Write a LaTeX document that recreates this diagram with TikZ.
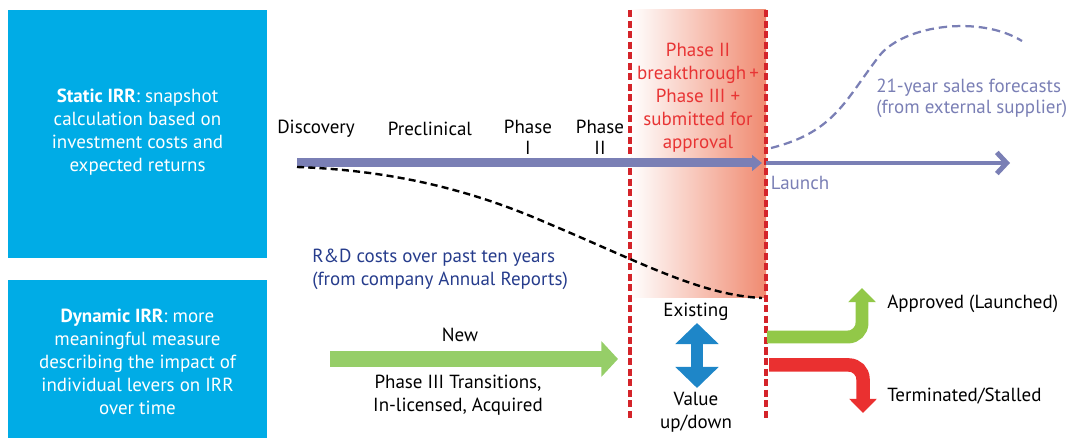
\documentclass[tikz,border=0pt]{standalone}
\usepackage{fontspec}
\setmainfont{PT Sans}
\usetikzlibrary{arrows.meta,positioning}

\definecolor{irrblue}{RGB}{0,172,230}
\definecolor{lineblue}{RGB}{122,127,181}
\definecolor{phasered}{RGB}{232,52,52}
\definecolor{dashred}{RGB}{212,36,42}
\definecolor{shadered}{RGB}{240,138,112}
\definecolor{costnavy}{RGB}{38,60,140}
\definecolor{newgreen}{RGB}{150,206,104}
\definecolor{okgreen}{RGB}{146,200,72}
\definecolor{stopred}{RGB}{234,48,48}
\definecolor{valueblue}{RGB}{30,134,200}

\tikzset{
  txt/.style={inner sep=0pt, align=center, font=\fontsize{13.5}{16.4}\selectfont},
  boxtxt/.style={txt, text=white},
  redline/.style={dashred, line width=2.2pt, dash pattern=on 5pt off 2.5pt},
  costline/.style={black, line width=1.7pt, dash pattern=on 5pt off 3pt},
  salesline/.style={lineblue, line width=1.6pt, dash pattern=on 6pt off 3.5pt},
  fatarrow/.style={line width=#1, -{Triangle[width=2.3*#1, length=1.1*#1]}}
}

\begin{document}
\begin{tikzpicture}[x=0.025cm,y=-0.025cm]
\useasboundingbox (0,0) rectangle (1067,438);

% Cajas azules de la izquierda.
\fill[irrblue] (8,10) rectangle (267,258);
\node[boxtxt] (static) at (137.5,132) {\textbf{Static IRR}: snapshot\\calculation based on\\investment costs and\\expected returns};
\fill[irrblue] (8,280) rectangle (267,438);
\node[boxtxt] (dynamic) at (137.5,362) {\textbf{Dynamic IRR}: more\\meaningful measure\\describing the impact of\\individual levers on IRR\\over time};

% La columna sombreada entre las dos lineas rojas.
\shade[left color=white, right color=shadered] (630,10) rectangle (766,298);
\coordinate (redAtop) at (630,10);
\coordinate (redAbot) at (630,420);
\coordinate (redBtop) at (766,10);
\coordinate (redBbot) at (766,420);
\draw[redline] (redAtop) -- (redAbot);
\draw[redline] (redBtop) -- (redBbot);
\node[txt, text=phasered] (submit) at (698,98) {Phase II\\breakthrough\,+\\Phase III +\\submitted for\\approval};

% Las fases del desarrollo.
\node[txt] (discovery) at (316,129) {Discovery};
\node[txt] (preclinical) at (430,129) {Preclinical};
\node[txt, font=\fontsize{13.5}{15}\selectfont] (phaseI) at (528,137) {Phase\\I};
\node[txt, font=\fontsize{13.5}{15}\selectfont] (phaseII) at (600,137) {Phase\\II};

% Eje del tiempo: hasta el lanzamiento y despues.
\coordinate (start) at (297,163);
\coordinate (launch) at (762,163);
\coordinate (after) at (766,163);
\coordinate (horizon) at (1010,163);
\draw[lineblue, line width=6.4pt, -{Triangle[width=11pt, length=7pt]}] (start) -- (launch);
\draw[lineblue, line width=3.5pt, -{Straight Barb[width=15pt, length=7pt]}] (after) -- (horizon);
\node[txt, text=lineblue] (launchlbl) at (800,183) {Launch};

% Curva de costes de I+D (discontinua, negra).
\coordinate (coststart) at (297,167);
\coordinate (costend) at (762,298);
\draw[costline] (coststart) .. controls (380,170) and (460,185) .. (547,223)
  .. controls (640,262) and (700,295) .. (costend);
\node[txt, text=costnavy, align=left, anchor=west] (costs) at (312,269) {R\&D costs over past ten years\\(from company Annual Reports)};

% Curva de ventas previstas (discontinua, azul).
\coordinate (salesstart) at (771,148);
\coordinate (salesend) at (1022,41);
\draw[salesline] (salesstart) .. controls (835,132) and (845,100) .. (880,55)
  .. controls (905,25) and (980,15) .. (salesend);
\node[txt, text=lineblue, align=left, anchor=west, font=\fontsize{13.5}{15}\selectfont] (sales) at (876,98) {21-year sales forecasts\\(from external supplier)};

% Parte de abajo: entradas nuevas y existentes.
\node[txt] (new) at (460,335) {New};
\coordinate (newfrom) at (330,359);
\coordinate (newto) at (618,359);
\draw[newgreen, fatarrow=10.7pt] (newfrom) -- (newto);
\node[txt] (transitions) at (458,395) {Phase III Transitions,\\In-licensed, Acquired};

\node[txt] (existing) at (696,312) {Existing};
\coordinate (valuetop) at (697,323);
\coordinate (valuebot) at (697,388);
\draw[valueblue, line width=8.5pt, {Triangle[width=30pt, length=15pt]}-{Triangle[width=30pt, length=15pt]}] (valuetop) -- (valuebot);
\node[txt] (value) at (696,412) {Value\\up/down};

% Salidas: aprobado o parado.
\coordinate (okfrom) at (767,337);
\coordinate (okto) at (862,288);
\draw[okgreen, line width=9.2pt, rounded corners=10pt, -{Triangle[width=19pt, length=10pt]}] (okfrom) -| (okto);
\node[txt, anchor=west] (approved) at (887,304) {Approved (Launched)};
\coordinate (stopfrom) at (769,365);
\coordinate (stopto) at (863,413);
\draw[stopred, line width=9.6pt, rounded corners=10pt, -{Triangle[width=19pt, length=10pt]}] (stopfrom) -| (stopto);
\node[txt, anchor=west] (stalled) at (887,396) {Terminated/Stalled};
\end{tikzpicture}
\end{document}
